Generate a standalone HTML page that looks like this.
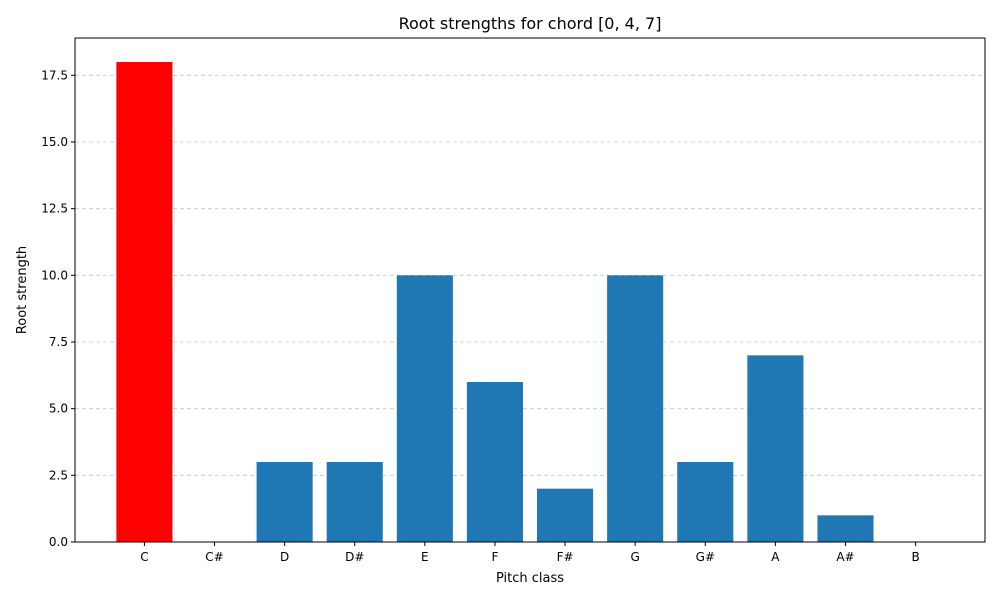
<!DOCTYPE html>
<html><head><meta charset="utf-8"><style>
body{margin:0;background:#fff;font-family:"Liberation Sans","DejaVu Sans",sans-serif}
</style></head><body>
<svg id="chart" width="1000" height="600" xmlns="http://www.w3.org/2000/svg" font-family="'DejaVu Sans','Liberation Sans',sans-serif">
<rect width="1000" height="600" fill="#fff"/>
<text x="530" y="29" text-anchor="middle" font-size="16">Root strengths for chord [0, 4, 7]</text>
<g id="grid"></g><g id="bars"></g><g id="axes"></g>
<text x="530" y="582" text-anchor="middle" font-size="13">Pitch class</text>
<text transform="translate(26,290) rotate(-90)" text-anchor="middle" font-size="13">Root strength</text>
</svg>
<script>
const categories=["C","C#","D","D#","E","F","F#","G","G#","A","A#","B"];
const values=[18,0,3,3,10,6,2,10,3,7,1,0];
const yTicks=[0,2.5,5,7.5,10,12.5,15,17.5];
const highlightIndex=0;
const L=75,R=985,T=38,B=542;
const ymax=Math.max(...values)*1.05;
const xmin=-0.4-0.05*(categories.length-0.2), xmax=categories.length-0.6+0.05*(categories.length-0.2);
const xs=i=>L+(i-xmin)/(xmax-xmin)*(R-L);
const ys=v=>B-v/ymax*(B-T);
const NS="http://www.w3.org/2000/svg";
function mk(t,a,p){const e=document.createElementNS(NS,t);for(const k in a)e.setAttribute(k,a[k]);p.appendChild(e);return e;}
const grid=document.getElementById('grid'),bars=document.getElementById('bars'),axes=document.getElementById('axes');
yTicks.forEach(t=>{const y=ys(t);
 const g=mk('line',{x1:L,x2:R,y1:y,y2:y,stroke:'#b0b0b0','stroke-dasharray':'4,3','stroke-width':0.8,opacity:0.7},grid);
 
 
 const tk=mk('line',{x1:L-4,x2:L,y1:y,y2:y,stroke:'#000'},axes);
 
 
 const tx=mk('text',{x:L-7,y:y+4,'text-anchor':'end','font-size':12},axes);tx.textContent=t.toFixed(1);
 
 
});
const w=0.8*(R-L)/(xmax-xmin);
categories.forEach((c,i)=>{const x=xs(i);
 const r=mk('rect',{x:x-w/2,y:ys(values[i]),width:w,height:B-ys(values[i]),fill:i===highlightIndex?'#ff0000':'#1f77b4'},bars);
 
 
 const tk=mk('line',{x1:x,x2:x,y1:B,y2:B+4,stroke:'#000'},axes);
 
 
 const tx=mk('text',{x:x,y:B+19,'text-anchor':'middle','font-size':12},axes);tx.textContent=c;
 
 
});
const f=mk('rect',{x:L,y:T,width:R-L,height:B-T,fill:'none',stroke:'#000','stroke-width':1},axes);


</script>
</body></html>
